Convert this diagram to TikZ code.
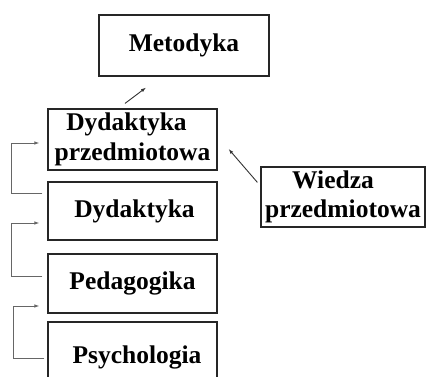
\documentclass[tikz,border=0pt]{standalone}
\usepackage{fontspec}
\setmainfont{Liberation Serif}
\usetikzlibrary{arrows.meta,calc,positioning}
\tikzset{
    x=1pt,y=-1pt,
    box/.style ={rectangle, draw=black!85, line width=1.2pt, inner sep=0pt,
        font=\fontsize{25.5}{29.5}\selectfont\bfseries, align=center},
    link/.style={-{Latex[length=5pt,width=3.5pt]}, draw=black!80, line width=0.9pt},
    elbow/.style={link, draw=black!60}
}
\begin{document}
\begin{tikzpicture}
    \useasboundingbox (0,0) rectangle (427,376);

    \node[box, minimum width=170pt, minimum height=61pt] (met) at (184,45.5) {Metodyka};

    % column of boxes on the left
    \node[box, minimum width=169pt, minimum height=61pt] (dp) at (132.5,139.5) {Dydaktyka\kern12pt\\przedmiotowa};
    \node[box, minimum width=169pt, minimum height=58pt] (dyd) at (132.5,211) {\kern4pt Dydaktyka};
    \node[box, minimum width=169pt, minimum height=59pt] (ped) at (132.5,283.5) {Pedagogika};
    \node[box, minimum width=169pt, minimum height=70pt] (psy) at (132.5,357) {\kern9pt Psychologia};

    \node[box, minimum width=164pt, minimum height=60pt] (wz) at (343,197) {Wiedza\kern20pt\\przedmiotowa};

    % short arrows
    \draw[link] ($(dp.north)+(-7.5,-5)$) -- ($(met.south)+(-38,11)$);
    \draw[link] ($(wz.north west)+(-3,16)$) -- ($(dp.east)+(11,9.5)$);

    % elbows on the left side
    \draw[elbow] ($(dyd.north west)+(-5,12)$) -- ++(-31,0) |- ($(dp.west)+(-8,3.5)$);
    \draw[elbow] ($(ped.north west)+(-5,23)$) -- ++(-31,0) |- ($(dyd.west)+(-8,12)$);
    \draw[elbow] ($(psy.north west)+(-3,37)$) -- ++(-31,0) |- ($(ped.west)+(-8,22.5)$);

\end{tikzpicture}
\end{document}
